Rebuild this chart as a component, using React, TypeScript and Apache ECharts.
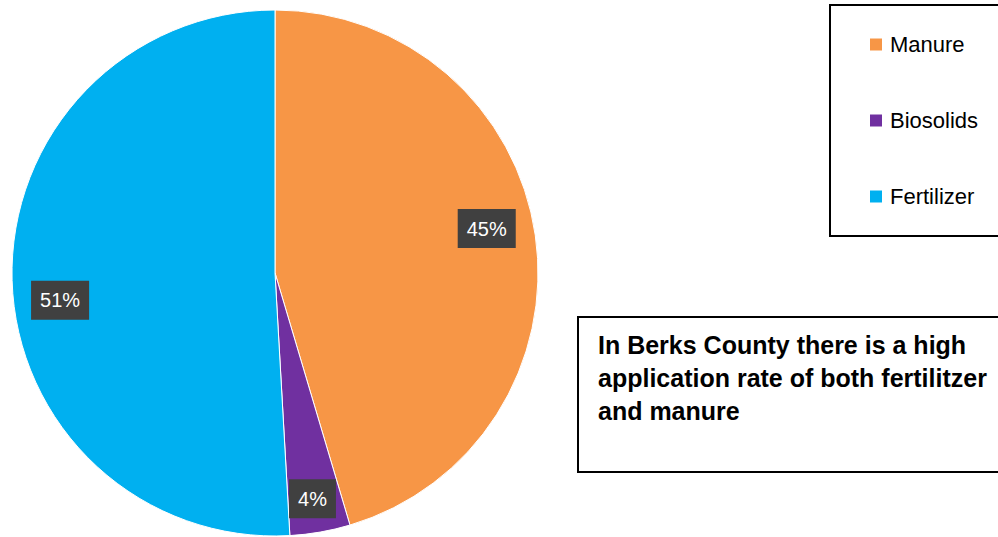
import React, { useEffect, useRef } from "react";
import * as echarts from "echarts";

const categories = ["Manure", "Biosolids", "Fertilizer"];
const values = [45.4, 3.7, 50.9];
const colors = ["#F79646", "#7030A0", "#00B0F0"];
const noteLines = [
  "In Berks County there is a high",
  "application rate of both fertilitzer",
  "and manure",
];
// label nudges (style only), Excel-like "best fit" placement
const labelNudge = [
  [-4, -13],
  [0, 11],
  [3, 21],
];

export default function App() {
  const ref = useRef<HTMLDivElement>(null);
  useEffect(() => {
    if (!ref.current) return;
    const chart = echarts.init(ref.current, null, { renderer: "svg" });
    const data = categories.map((name, i) => ({
      name,
      value: values[i],
      itemStyle: { color: colors[i] },
    }));
    chart.setOption({
      animation: false,
      backgroundColor: "#ffffff",
      legend: {
        orient: "vertical",
        left: 863,
        top: 28,
        padding: 5,
        itemWidth: 14,
        itemHeight: 14,
        itemGap: 53,
        icon: "rect",
        selectedMode: false,
        textStyle: {
          fontFamily: "Liberation Sans",
          fontSize: 22,
          lineHeight: 23,
          color: "#000",
          padding: [0, 0, 0, 2],
        },
        data: categories,
      },
      graphic: [
        {
          type: "rect",
          shape: { x: 830, y: 5, width: 200, height: 231 },
          style: { fill: "none", stroke: "#000", lineWidth: 2 },
          z: 10,
        },
        {
          type: "rect",
          shape: { x: 578, y: 317, width: 440, height: 155 },
          style: { fill: "none", stroke: "#000", lineWidth: 2 },
          z: 10,
        },
        {
          type: "text",
          x: 598,
          y: 328,
          style: {
            text: noteLines.join("\n"),
            fontFamily: "Liberation Sans",
            fontWeight: "bold",
            fontSize: 25,
            lineHeight: 33,
            fill: "#000",
          },
          z: 10,
        },
      ],
      series: [
        {
          type: "pie",
          center: [275, 273],
          radius: 263,
          startAngle: 90,
          clockwise: true,
          silent: true,
          label: { show: false },
          labelLine: { show: false },
          itemStyle: { borderColor: "#ffffff", borderWidth: 1 },
          data,
        },
        {
          type: "pie",
          center: [275, 273],
          radius: 430,
          startAngle: 90,
          clockwise: true,
          silent: true,
          z: 5,
          itemStyle: { color: "rgba(0,0,0,0)" },
          label: {
            show: true,
            position: "inside",
            formatter: (p: any) => Math.round(p.percent) + "%",
            color: "#ffffff",
            fontFamily: "Liberation Sans",
            fontSize: 20,
            backgroundColor: "#404040",
            padding: [10, 9, 9, 9],
          },
          labelLayout: (p: any) => {
            const n = labelNudge[p.dataIndex] || [0, 0];
            return { dx: n[0], dy: n[1] };
          },
          labelLine: { show: false },
          data: categories.map((name, i) => ({
            name,
            value: values[i],
            itemStyle: { color: "rgba(0,0,0,0)" },
          })),
        },
      ],
    });
    return () => chart.dispose();
  }, []);
  return (
    <div
      ref={ref}
      style={{ position: "fixed", left: 0, top: 0, width: 998, height: 537 }}
    />
  );
}
